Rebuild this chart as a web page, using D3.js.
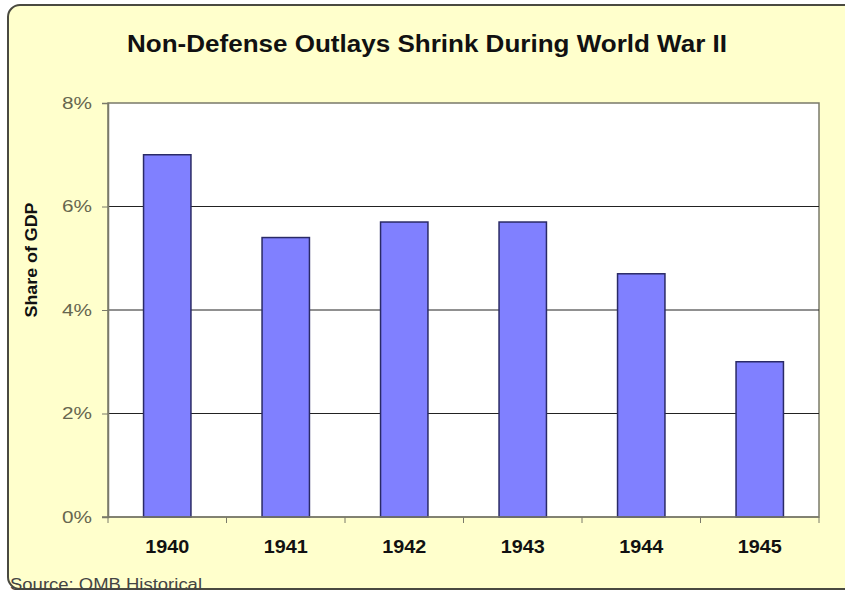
<!DOCTYPE html>
<html lang="en">
  <head>
    <meta charset="UTF-8" />
    <title>Non-Defense Outlays Shrink During World War II</title>
    <script src="https://cdnjs.cloudflare.com/ajax/libs/d3/7.8.5/d3.min.js"></script>
    <style>
      body {
        margin: 0;
        background: #fff;
      }
      text {
        font-family: "Liberation Sans", Arial, sans-serif;
      }
      .y-axis text {
        fill: #66664f;
        font-size: 17px;
      }
      .x-axis text {
        fill: #111;
        font-size: 18px;
        font-weight: bold;
      }
      .axis path,
      .axis line {
        stroke: #7a7a6a;
      }
    </style>
  </head>
  <body>
    <div id="chart"></div>
    <script>
      // data
      const years = ["1940", "1941", "1942", "1943", "1944", "1945"];
      const shares = [7.0, 5.4, 5.7, 5.7, 4.7, 3.0];
      const yTicks = [0, 2, 4, 6, 8];

      const W = 845;
      const H = 592;
      const plot = { left: 108, right: 819, top: 103, bottom: 517 };

      const svg = d3
        .select("#chart")
        .append("svg")
        .attr("width", W)
        .attr("height", H);

      // outer yellow panel with rounded corners
      svg
        .append("rect")
        .attr("x", 8)
        .attr("y", 5)
        .attr("width", 860)
        .attr("height", 584)
        .attr("rx", 12)
        .attr("fill", "#ffffcc")
        .attr("stroke", "#4a4a40")
        .attr("stroke-width", 2);

      // title (the source image is a bit stretched sideways)
      svg
        .append("text")
        .attr("x", 427)
        .attr("y", 52)
        .attr("text-anchor", "middle")
        .attr("textLength", 600)
        .attr("lengthAdjust", "spacingAndGlyphs")
        .style("font-size", "23px")
        .style("font-weight", "bold")
        .style("fill", "#111")
        .text("Non-Defense Outlays Shrink During World War II");

      const x = d3
        .scaleBand()
        .domain(years)
        .range([plot.left, plot.right])
        .paddingInner(0.6)
        .paddingOuter(0.3);

      const y = d3.scaleLinear().domain([0, 8]).range([plot.bottom, plot.top]);

      // white plot area
      svg
        .append("rect")
        .attr("x", plot.left)
        .attr("y", plot.top)
        .attr("width", plot.right - plot.left)
        .attr("height", plot.bottom - plot.top)
        .attr("fill", "#fff")
        .attr("stroke", "#7a7a6a")
        .attr("stroke-width", 1.5);

      // gridlines
      svg
        .append("g")
        .selectAll("line")
        .data(yTicks.filter((d) => d > 0 && d < 8))
        .enter()
        .append("line")
        .attr("x1", plot.left)
        .attr("x2", plot.right)
        .attr("y1", (d) => y(d))
        .attr("y2", (d) => y(d))
        .attr("stroke", "#222")
        .attr("stroke-width", 1);

      // bars
      svg
        .append("g")
        .selectAll("rect")
        .data(years.map((yr, i) => ({ year: yr, value: shares[i] })))
        .enter()
        .append("rect")
        .attr("x", (d) => x(d.year))
        .attr("y", (d) => y(d.value))
        .attr("width", x.bandwidth())
        .attr("height", (d) => y(0) - y(d.value))
        .attr("fill", "#8080ff")
        .attr("stroke", "#2a2a66")
        .attr("stroke-width", 1.5);

      // y axis
      const yAxis = d3
        .axisLeft(y)
        .tickValues(yTicks)
        .tickSize(6)
        .tickPadding(10)
        .tickFormat((d) => d + "%");

      svg
        .append("g")
        .attr("class", "axis y-axis")
        .attr("transform", `translate(${plot.left},0)`)
        .call(yAxis)
        .call((g) => g.select(".domain").attr("stroke-width", 1.5))
        .call((g) =>
          g
            .selectAll(".tick text")
            .attr("textLength", 30)
            .attr("lengthAdjust", "spacingAndGlyphs")
        );

      // x axis: ticks sit on category boundaries
      const step = x.step();
      const boundaries = d3.range(years.length + 1).map((i) => plot.left + i * step);

      const xAxisG = svg
        .append("g")
        .attr("class", "axis x-axis")
        .attr("transform", `translate(0,${plot.bottom})`);

      xAxisG
        .append("line")
        .attr("x1", plot.left - 6)
        .attr("x2", plot.right)
        .attr("stroke-width", 1.5);

      xAxisG
        .selectAll(".bt")
        .data(boundaries)
        .enter()
        .append("line")
        .attr("class", "bt")
        .attr("x1", (d) => d)
        .attr("x2", (d) => d)
        .attr("y1", 0)
        .attr("y2", 6);

      xAxisG
        .selectAll(".lbl")
        .data(years)
        .enter()
        .append("text")
        .attr("class", "lbl")
        .attr("x", (d) => x(d) + x.bandwidth() / 2)
        .attr("y", 36)
        .attr("text-anchor", "middle")
        .attr("textLength", 44)
        .attr("lengthAdjust", "spacingAndGlyphs")
        .text((d) => d);

      // y axis title
      svg
        .append("text")
        .attr("transform", "translate(37,260) rotate(-90)")
        .attr("text-anchor", "middle")
        .attr("textLength", 115)
        .attr("lengthAdjust", "spacingAndGlyphs")
        .style("font-size", "16px")
        .style("font-weight", "bold")
        .style("fill", "#111")
        .text("Share of GDP");

      // source note
      svg
        .append("text")
        .attr("x", 10)
        .attr("y", 590)
        .attr("textLength", 192)
        .attr("lengthAdjust", "spacingAndGlyphs")
        .style("font-size", "16px")
        .style("fill", "#444")
        .text("Source: OMB Historical");
    </script>
  </body>
</html>
